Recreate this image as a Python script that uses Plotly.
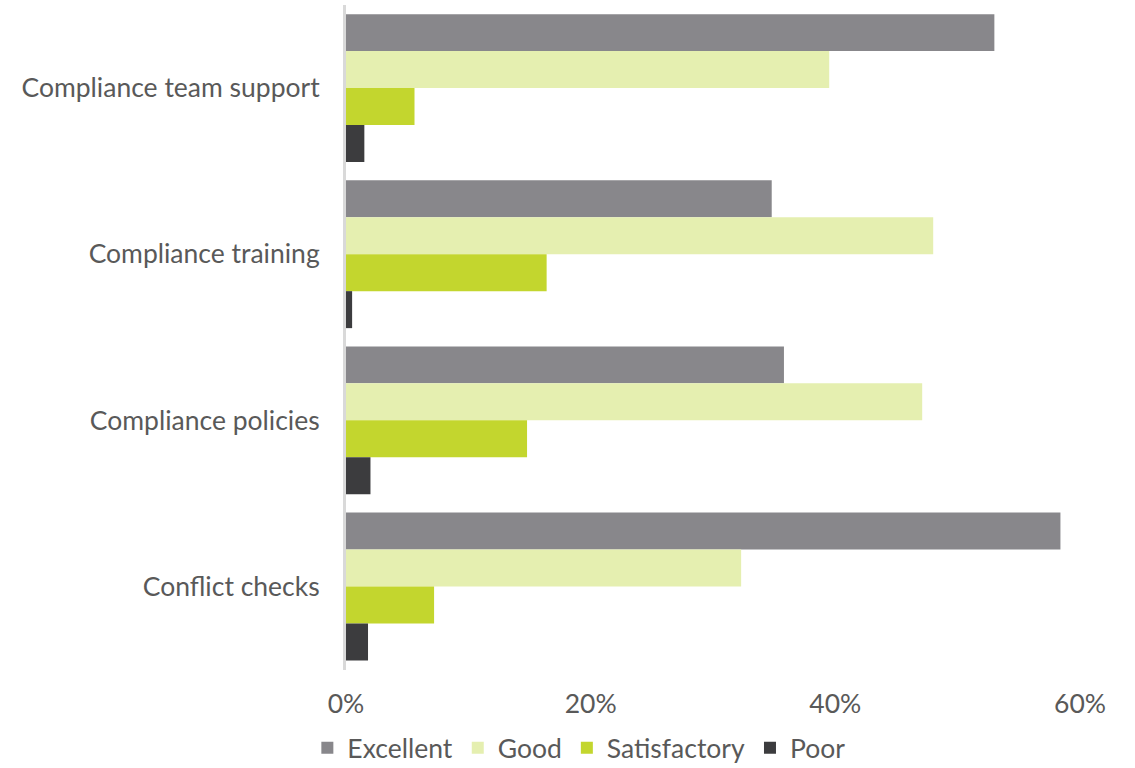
import plotly.graph_objects as go

categories = ["Compliance team support", "Compliance training", "Compliance policies", "Conflict checks"]
excellent = [0.53, 0.348, 0.358, 0.584]
good = [0.395, 0.48, 0.471, 0.323]
satisfactory = [0.056, 0.164, 0.148, 0.072]
poor = [0.015, 0.005, 0.02, 0.018]

series = [
    ("Excellent", excellent, "#88878b"),
    ("Good", good, "#e5efb0"),
    ("Satisfactory", satisfactory, "#c3d62e"),
    ("Poor", poor, "#3c3c3e"),
]

fig = go.Figure()
for name, vals, color in series:
    fig.add_trace(go.Bar(
        y=categories, x=vals, name=name, orientation="h",
        marker=dict(color=color, line=dict(width=0)),
    ))

fig.update_layout(
    width=1135, height=768,
    margin=dict(l=346, r=55, t=5, b=97),
    paper_bgcolor="white", plot_bgcolor="white",
    barmode="group", bargap=0.11, bargroupgap=0,
    font=dict(family="Lato", size=26.5, color="#595959"),
    showlegend=True,
    legend=dict(orientation="h", xref="container", x=0.51, xanchor="center",
                yref="container", y=0.026, yanchor="middle",
                font=dict(size=26.5, color="#595959"),
                itemwidth=30, traceorder="normal"),
    xaxis=dict(range=[0, 0.6], tickvals=[0, 0.2, 0.4, 0.6], tickformat=".0%",
               showgrid=False, zeroline=False, showline=False,
               ticks="", ticklabelstandoff=16),
    yaxis=dict(autorange="reversed", showgrid=False, zeroline=False,
               showline=True, linecolor="#d9d9d9", linewidth=3,
               ticks="", ticklabelstandoff=18),
)

fig.write_html("out.html")
